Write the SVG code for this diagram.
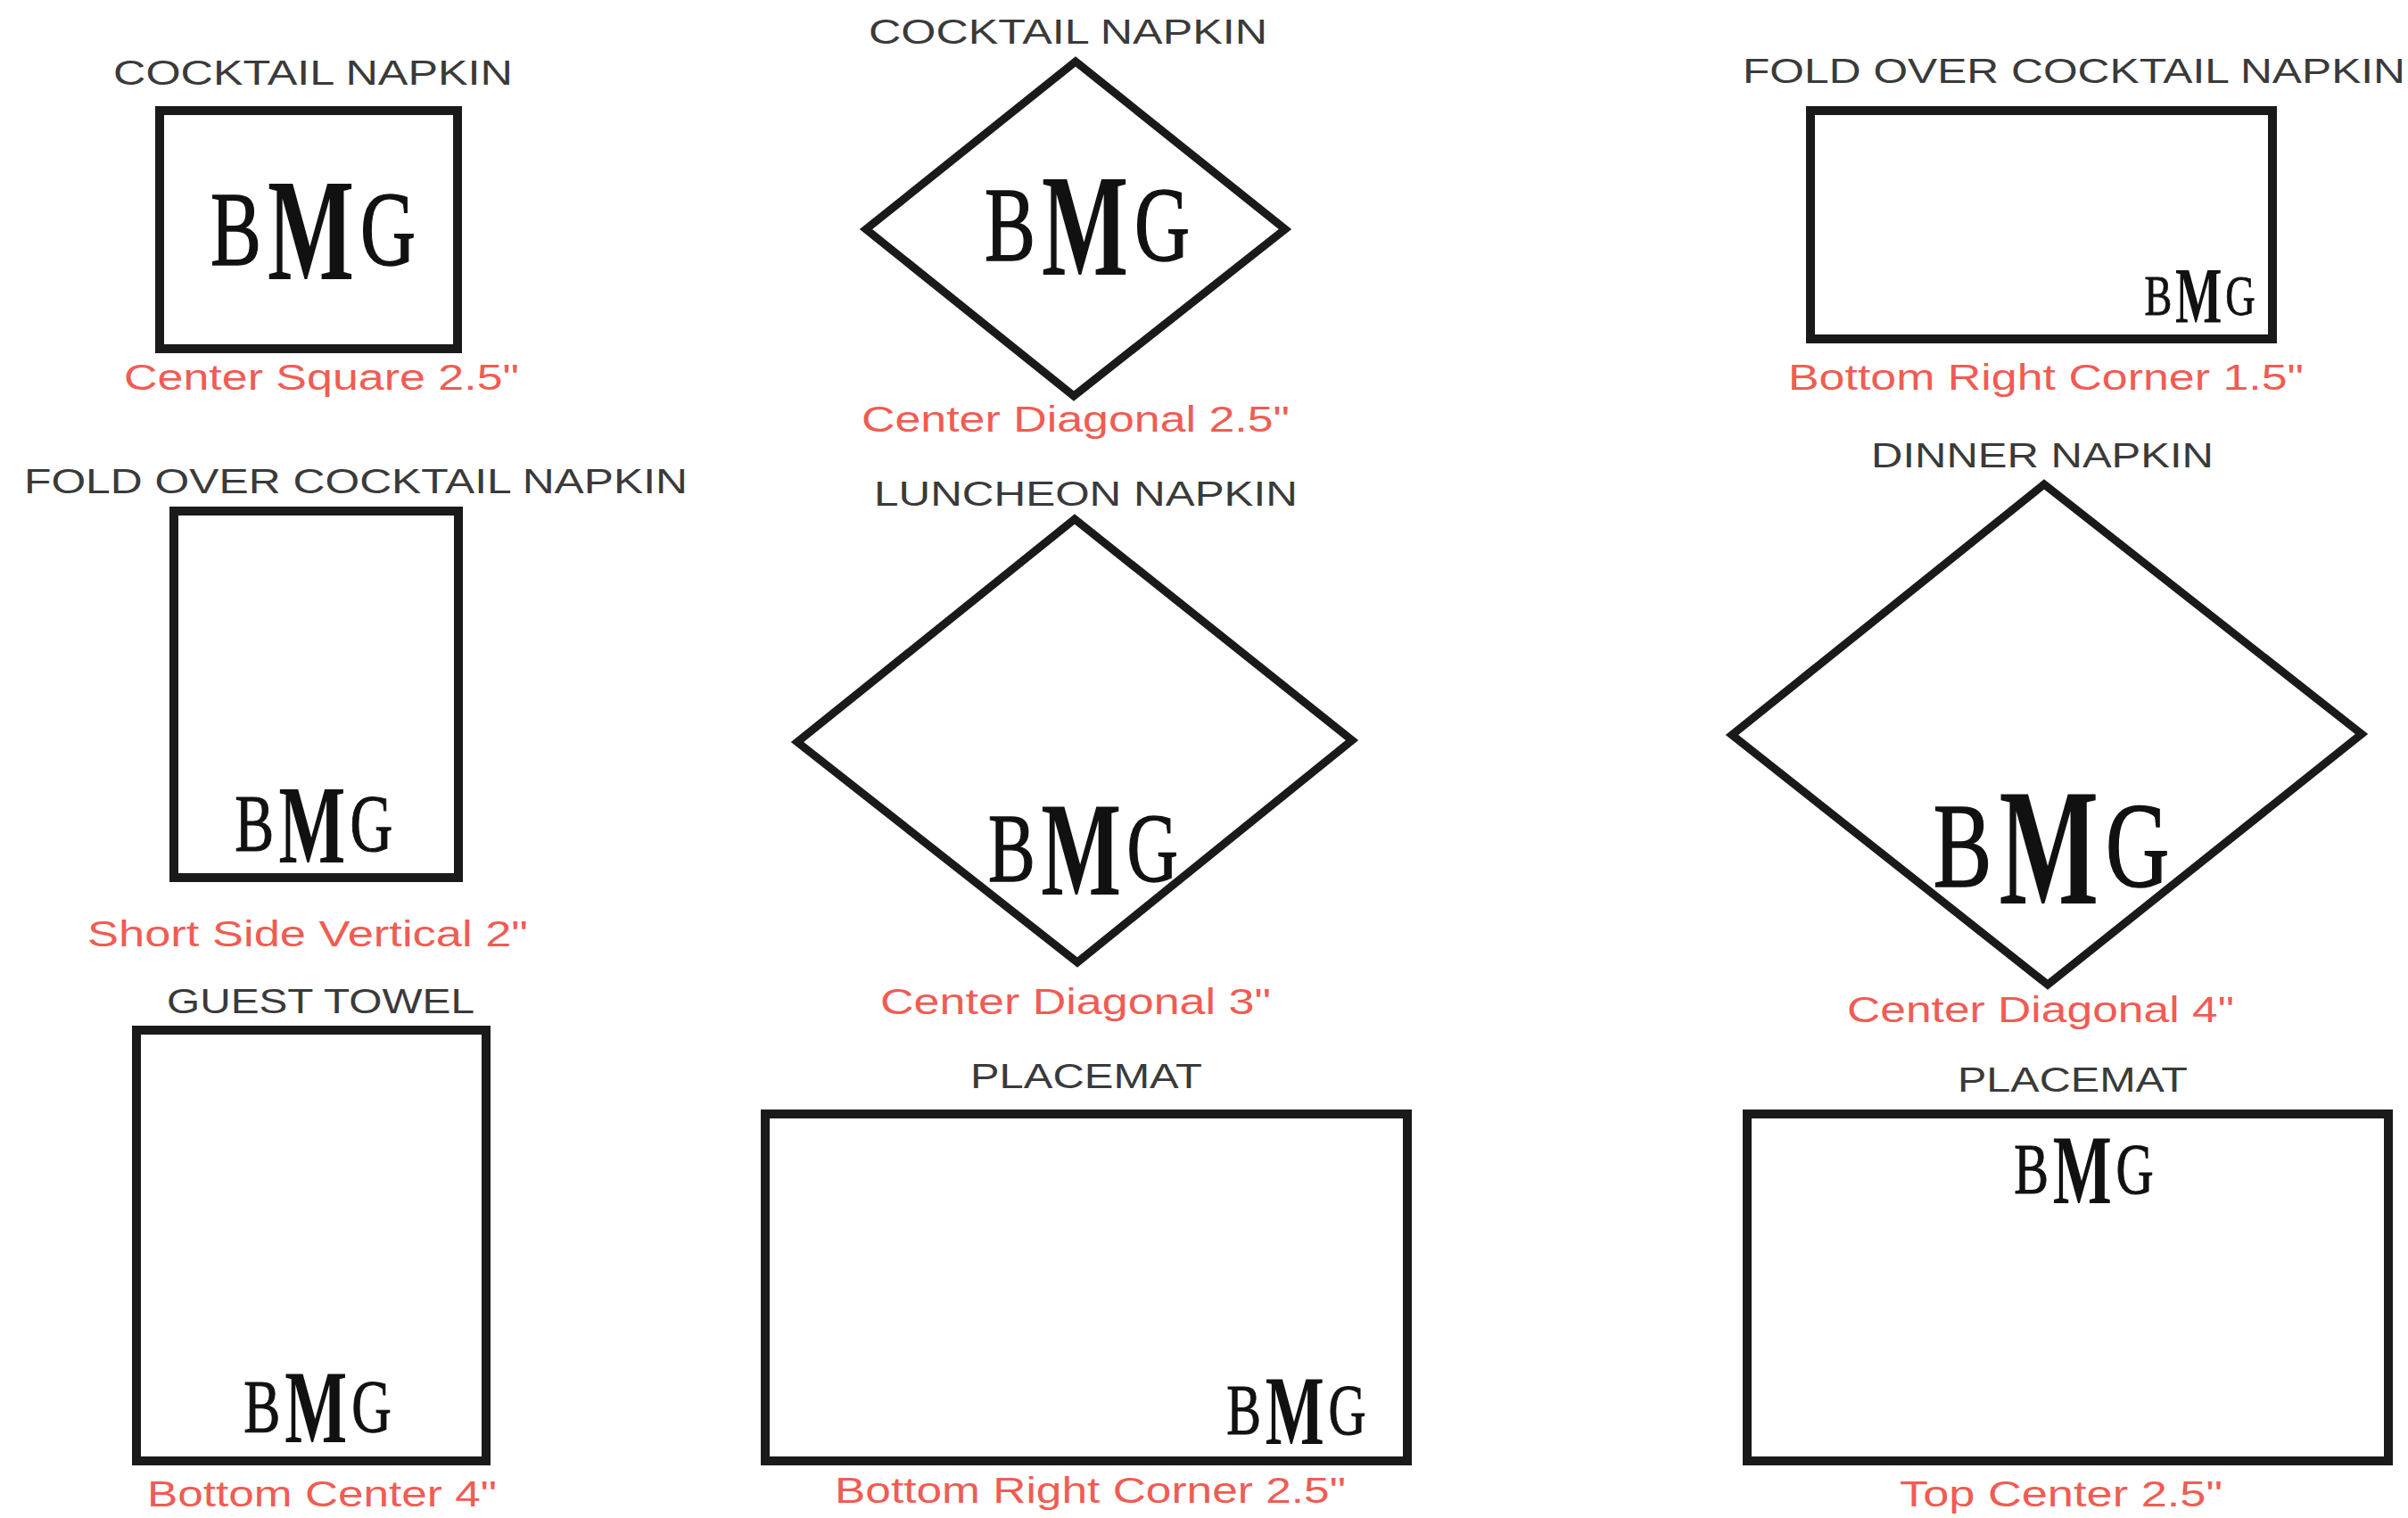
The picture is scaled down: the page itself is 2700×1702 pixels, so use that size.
<svg xmlns="http://www.w3.org/2000/svg" width="2700" height="1702" viewBox="0 0 2700 1702">
<style>
.title{font-family:"Liberation Sans",Arial,sans-serif;font-size:39px;fill:#3a3a3a}
.label{font-family:"Liberation Sans",Arial,sans-serif;font-size:40px;fill:#f05c53}
.shape{fill:none;stroke:#1a1a1a;stroke-width:10}
.dia{fill:none;stroke:#1a1a1a;stroke-width:9;stroke-linejoin:miter}
.mono{font-family:"Liberation Serif","Times New Roman",serif;fill:#111}
.thin{stroke:#111;stroke-width:1.5}
</style>
<defs>
<g id="bmg">
<text class="mono thin" x="-1" y="94" font-size="118" textLength="57" lengthAdjust="spacingAndGlyphs">B</text>
<text class="mono" x="63" y="110" font-size="163" font-weight="bold" textLength="97" lengthAdjust="spacingAndGlyphs">M</text>
<text class="mono thin" x="167" y="94" font-size="118" textLength="62" lengthAdjust="spacingAndGlyphs">G</text>
</g>
</defs>
<rect width="2700" height="1702" fill="#fff"/>

<g id="n1">
<text class="title" x="127" y="95" textLength="448" lengthAdjust="spacingAndGlyphs">COCKTAIL NAPKIN</text>
<rect class="shape" x="179" y="124" width="334" height="267"/>
<use href="#bmg" transform="translate(237,203)"/>
<text class="label" x="139" y="437" textLength="443" lengthAdjust="spacingAndGlyphs">Center Square 2.5"</text>
</g>

<g id="n2">
<text class="title" x="974" y="49" textLength="447" lengthAdjust="spacingAndGlyphs">COCKTAIL NAPKIN</text>
<polygon class="dia" points="1206,69 1441,257 1204,444 971,257"/>
<use href="#bmg" transform="translate(1105,198)"/>
<text class="label" x="966" y="484" textLength="480" lengthAdjust="spacingAndGlyphs">Center Diagonal 2.5"</text>
</g>

<g id="n3">
<text class="title" x="1954" y="93" textLength="743" lengthAdjust="spacingAndGlyphs">FOLD OVER COCKTAIL NAPKIN</text>
<rect class="shape" x="2030" y="124" width="518" height="256"/>
<use href="#bmg" transform="translate(2405,302) scale(0.54)"/>
<text class="label" x="2005" y="437" textLength="578" lengthAdjust="spacingAndGlyphs">Bottom Right Corner 1.5"</text>
</g>

<g id="n4">
<text class="title" x="27" y="553" textLength="744" lengthAdjust="spacingAndGlyphs">FOLD OVER COCKTAIL NAPKIN</text>
<rect class="shape" x="195" y="573" width="319" height="411"/>
<use href="#bmg" transform="translate(264,882) scale(0.77)"/>
<text class="label" x="98" y="1061" textLength="494" lengthAdjust="spacingAndGlyphs">Short Side Vertical 2"</text>
</g>

<g id="n5">
<text class="title" x="980" y="567" textLength="475" lengthAdjust="spacingAndGlyphs">LUNCHEON NAPKIN</text>
<polygon class="dia" points="1205,582 1516,830 1208,1079 894,832"/>
<use href="#bmg" transform="translate(1109,901) scale(0.925)"/>
<text class="label" x="987" y="1137" textLength="438" lengthAdjust="spacingAndGlyphs">Center Diagonal 3"</text>
</g>

<g id="n6">
<text class="title" x="2098" y="524" textLength="384" lengthAdjust="spacingAndGlyphs">DINNER NAPKIN</text>
<polygon class="dia" points="2292,543 2648,823 2296,1104 1942,824"/>
<use href="#bmg" transform="translate(2169,886) scale(1.15)"/>
<text class="label" x="2071" y="1146" textLength="434" lengthAdjust="spacingAndGlyphs">Center Diagonal 4"</text>
</g>

<g id="n7">
<text class="title" x="187" y="1136" textLength="345" lengthAdjust="spacingAndGlyphs">GUEST TOWEL</text>
<rect class="shape" x="153" y="1155" width="392" height="483"/>
<use href="#bmg" transform="translate(274,1538) scale(0.72)"/>
<text class="label" x="165" y="1689" textLength="392" lengthAdjust="spacingAndGlyphs">Bottom Center 4"</text>
</g>

<g id="n8">
<text class="title" x="1088" y="1220" textLength="260" lengthAdjust="spacingAndGlyphs">PLACEMAT</text>
<rect class="shape" x="858" y="1249" width="720" height="389"/>
<use href="#bmg" transform="translate(1376,1544) scale(0.68)"/>
<text class="label" x="936" y="1685" textLength="573" lengthAdjust="spacingAndGlyphs">Bottom Right Corner 2.5"</text>
</g>

<g id="n9">
<text class="title" x="2195" y="1224" textLength="258" lengthAdjust="spacingAndGlyphs">PLACEMAT</text>
<rect class="shape" x="1959" y="1249" width="719" height="389"/>
<use href="#bmg" transform="translate(2259,1274) scale(0.68)"/>
<text class="label" x="2130" y="1689" textLength="362" lengthAdjust="spacingAndGlyphs">Top Center 2.5"</text>
</g>
</svg>
